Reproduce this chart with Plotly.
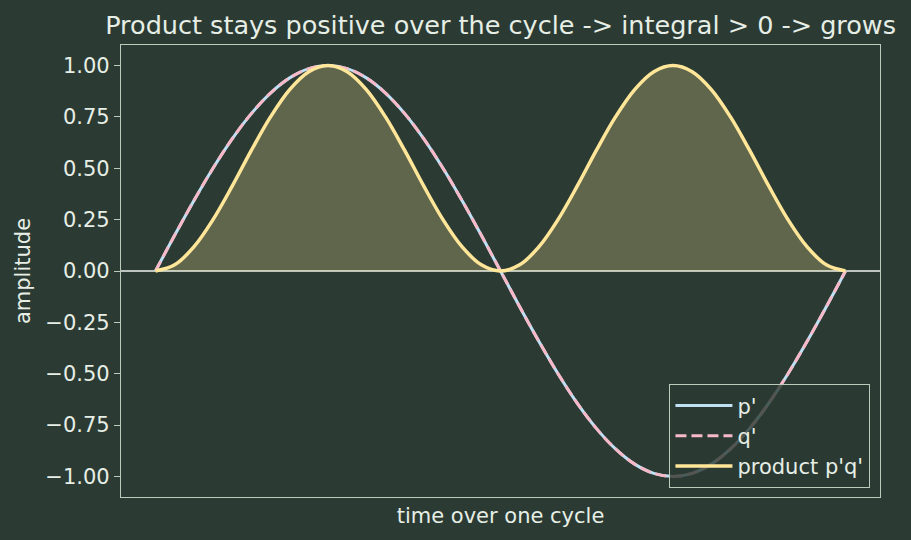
import plotly.graph_objects as go

# time grid in degrees over one cycle
phase_deg = list(range(0, 361, 10))

# p' values
p_vals = [0.0, 0.174, 0.342, 0.5, 0.643, 0.766, 0.866, 0.94, 0.985, 1.0,
          0.985, 0.94, 0.866, 0.766, 0.643, 0.5, 0.342, 0.174, 0.0,
          -0.174, -0.342, -0.5, -0.643, -0.766, -0.866, -0.94, -0.985, -1.0,
          -0.985, -0.94, -0.866, -0.766, -0.643, -0.5, -0.342, -0.174, 0.0]
# q' coincides with p'
q_vals = [0.0, 0.174, 0.342, 0.5, 0.643, 0.766, 0.866, 0.94, 0.985, 1.0,
          0.985, 0.94, 0.866, 0.766, 0.643, 0.5, 0.342, 0.174, 0.0,
          -0.174, -0.342, -0.5, -0.643, -0.766, -0.866, -0.94, -0.985, -1.0,
          -0.985, -0.94, -0.866, -0.766, -0.643, -0.5, -0.342, -0.174, 0.0]
# product p'q'
prod_vals = [0.0, 0.03, 0.117, 0.25, 0.413, 0.587, 0.75, 0.883, 0.97, 1.0,
             0.97, 0.883, 0.75, 0.587, 0.413, 0.25, 0.117, 0.03, 0.0,
             0.03, 0.117, 0.25, 0.413, 0.587, 0.75, 0.883, 0.97, 1.0,
             0.97, 0.883, 0.75, 0.587, 0.413, 0.25, 0.117, 0.03, 0.0]

y_ticks = [-1.0, -0.75, -0.5, -0.25, 0.0, 0.25, 0.5, 0.75, 1.0]
y_ticklabels = ["\u22121.00", "\u22120.75", "\u22120.50", "\u22120.25", "0.00", "0.25", "0.50", "0.75", "1.00"]

BG = "#2b3b33"
FG = "#e6eee6"
SPINE = "#bccbbc"

fig = go.Figure()
fig.add_trace(go.Scatter(x=phase_deg, y=prod_vals, mode="lines", fill="tozeroy",
                         fillcolor="rgba(255,230,153,0.25)", line=dict(width=0, shape="spline"),
                         showlegend=False, hoverinfo="skip"))
fig.add_trace(go.Scatter(x=phase_deg, y=p_vals, mode="lines", name="p'",
                         line=dict(color="#bfe0f5", width=3, shape="spline")))
fig.add_trace(go.Scatter(x=phase_deg, y=q_vals, mode="lines", name="q'",
                         line=dict(color="#f7b8c8", width=3, dash="11px,5px", shape="spline")))
fig.add_trace(go.Scatter(x=phase_deg, y=prod_vals, mode="lines", name="product p'q'",
                         line=dict(color="#ffe699", width=3.5, shape="spline")))

fig.add_shape(type="line", xref="paper", yref="y", x0=0, x1=1, y0=0, y1=0,
              line=dict(color="#eef3ee", width=1.5), layer="below")

fig.update_layout(
    width=911, height=540,
    paper_bgcolor=BG, plot_bgcolor=BG,
    margin=dict(l=121, r=31, t=45, b=43),
    font=dict(family="DejaVu Sans", color=FG, size=21),
    title=dict(text="Product stays positive over the cycle -> integral > 0 -> grows",
               x=0.5495, xanchor="center", y=0.953, yanchor="middle",
               font=dict(size=25.5, color=FG)),
    xaxis=dict(range=[-18, 378], showticklabels=False, ticks="", showgrid=False,
               zeroline=False, showline=True, mirror=True, linecolor=SPINE, linewidth=1.3,
               title=dict(text="time over one cycle", standoff=11, font=dict(size=21))),
    yaxis=dict(range=[-1.1, 1.1], tickvals=y_ticks, ticktext=y_ticklabels,
               ticks="outside", ticklen=6, tickcolor=SPINE, showgrid=False,
               zeroline=False, showline=True, mirror=True, linecolor=SPINE, linewidth=1.3,
               title=dict(text="amplitude", standoff=8, font=dict(size=21))),
    legend=dict(x=0.987, y=0.02, xanchor="right", yanchor="bottom",
                bgcolor="rgba(43,59,51,0.8)", bordercolor=SPINE, borderwidth=1.3,
                itemwidth=57,
                font=dict(size=21, color=FG), tracegroupgap=0),
    showlegend=True,
)

fig.write_html("out.html")
